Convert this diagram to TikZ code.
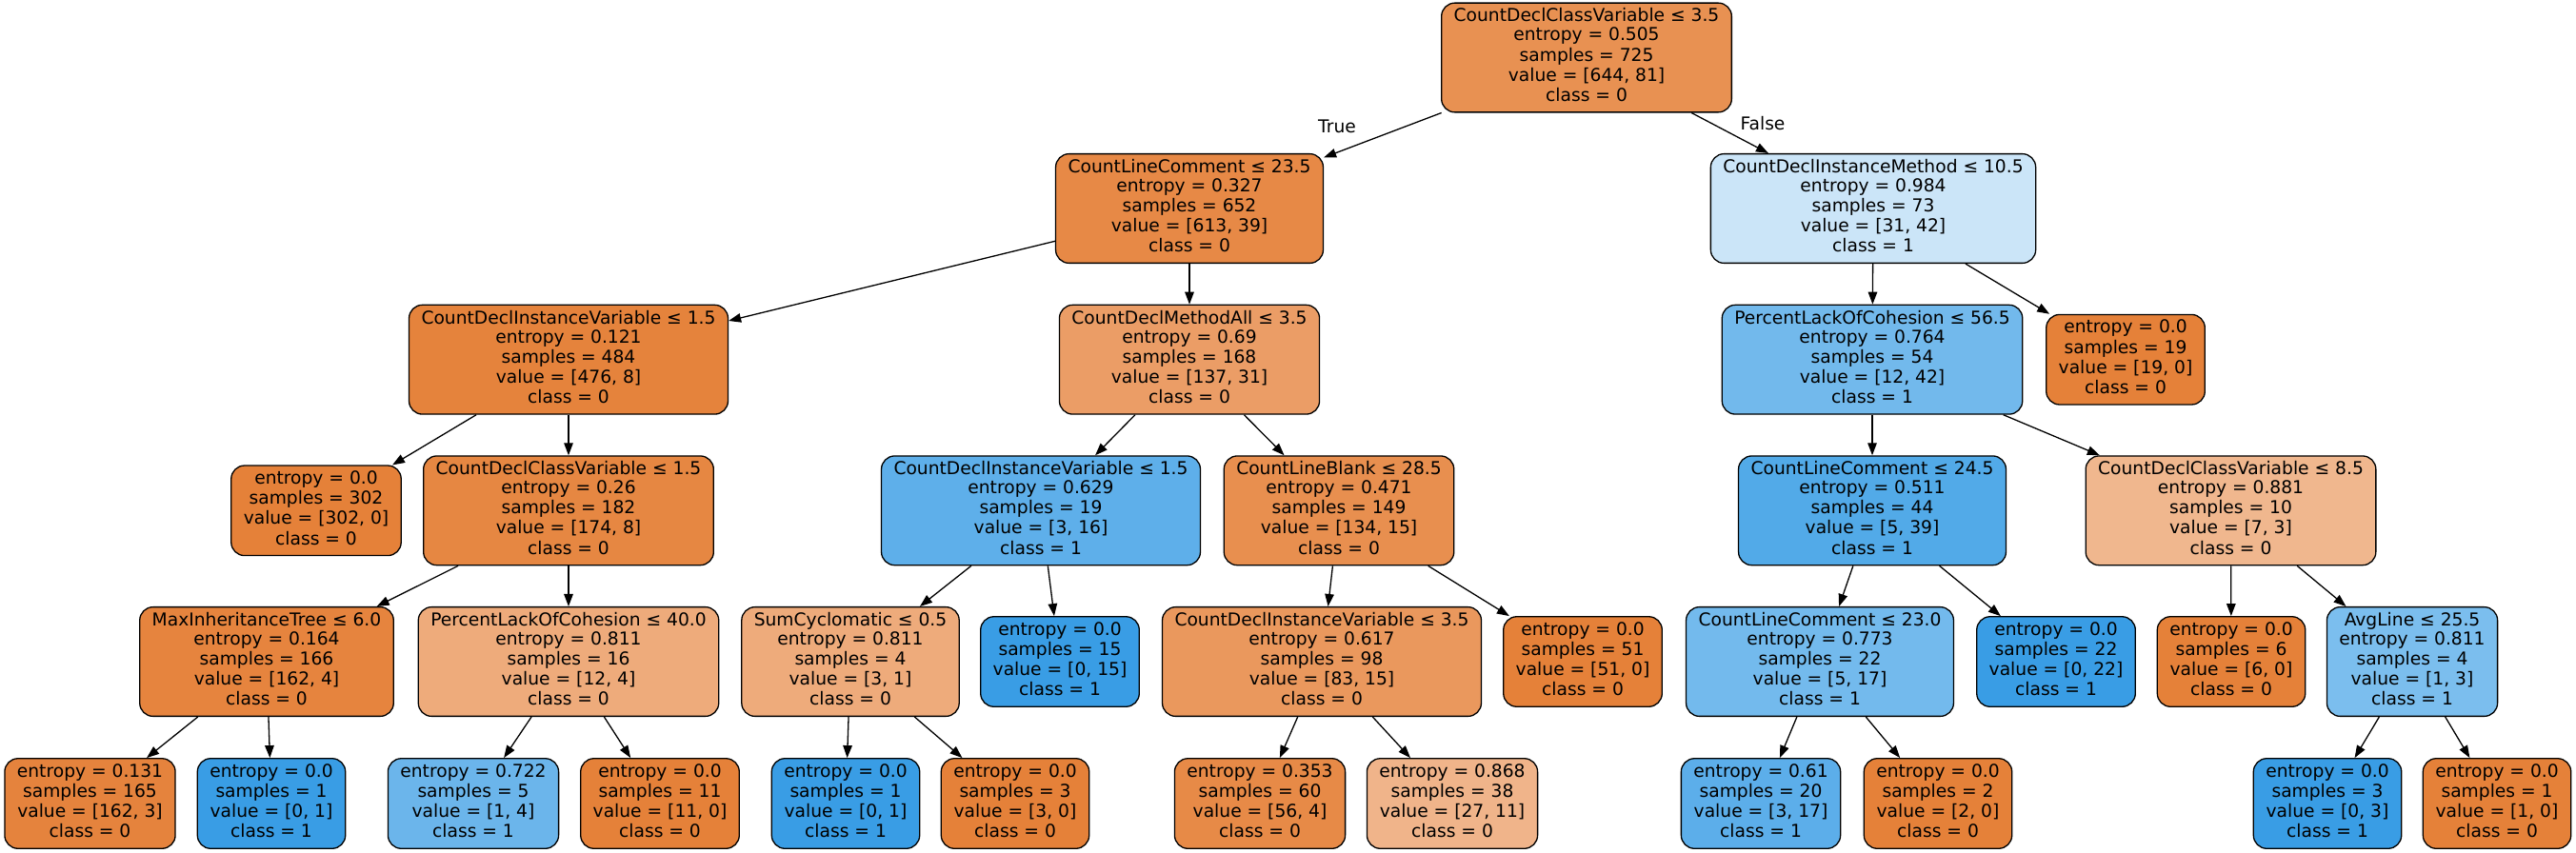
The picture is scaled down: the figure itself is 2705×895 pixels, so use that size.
\documentclass[tikz,border=0pt]{standalone}
\usepackage{fontspec}
\setmainfont{DejaVu Sans}
\usetikzlibrary{arrows.meta}
\definecolor{cz}{RGB}{229,129,57}
\definecolor{co}{RGB}{57,157,229}
\newcommand\zs{\rule[-6pt]{0pt}{20pt}}
\begin{document}
\begin{tikzpicture}[x=1pt,y=-1pt,
  tn/.style={draw=black, line width=1.3pt, rounded corners=14pt, align=center,
    inner xsep=13pt, inner ysep=5.5pt, font={\fontsize{18.67pt}{20pt}\selectfont}},
  ed/.style={-{Triangle[length=13pt,width=9.5pt]}, line width=1.3pt},
  lb/.style={font={\fontsize{18.67pt}{20pt}\selectfont}, inner sep=0pt}]
\fill[white] (0,0) rectangle (2705,895);
\useasboundingbox (0,0) rectangle (2705,895);
% level 0
\node[tn, fill=cz!87.4!white] (n0) at (1666,60.5) {\zs CountDeclClassVariable ≤ 3.5\\\zs entropy = 0.505\\\zs samples = 725\\\zs value = [644, 81]\\\zs class = 0};
% level 1
\node[tn, fill=cz!93.6!white] (n1) at (1249,219) {\zs CountLineComment ≤ 23.5\\\zs entropy = 0.327\\\zs samples = 652\\\zs value = [613, 39]\\\zs class = 0};
\node[tn, fill=co!26.2!white] (n22) at (1967,219) {\zs CountDeclInstanceMethod ≤ 10.5\\\zs entropy = 0.984\\\zs samples = 73\\\zs value = [31, 42]\\\zs class = 1};
% level 2
\node[tn, fill=cz!98.3!white] (n2) at (597,377.7) {\zs CountDeclInstanceVariable ≤ 1.5\\\zs entropy = 0.121\\\zs samples = 484\\\zs value = [476, 8]\\\zs class = 0};
\node[tn, fill=cz!77.4!white] (n11) at (1249,377.7) {\zs CountDeclMethodAll ≤ 3.5\\\zs entropy = 0.69\\\zs samples = 168\\\zs value = [137, 31]\\\zs class = 0};
\node[tn, fill=co!71.4!white] (n23) at (1966,377.7) {\zs PercentLackOfCohesion ≤ 56.5\\\zs entropy = 0.764\\\zs samples = 54\\\zs value = [12, 42]\\\zs class = 1};
\node[tn, fill=cz] (n34) at (2232,377.7) {\zs entropy = 0.0\\\zs samples = 19\\\zs value = [19, 0]\\\zs class = 0};
% level 3
\node[tn, fill=cz] (n3) at (332,536.3) {\zs entropy = 0.0\\\zs samples = 302\\\zs value = [302, 0]\\\zs class = 0};
\node[tn, fill=cz!95.4!white] (n4) at (597,536.3) {\zs CountDeclClassVariable ≤ 1.5\\\zs entropy = 0.26\\\zs samples = 182\\\zs value = [174, 8]\\\zs class = 0};
\node[tn, fill=co!81.3!white] (n12) at (1093,536.3) {\zs CountDeclInstanceVariable ≤ 1.5\\\zs entropy = 0.629\\\zs samples = 19\\\zs value = [3, 16]\\\zs class = 1};
\node[tn, fill=cz!88.8!white] (n17) at (1406,536.3) {\zs CountLineBlank ≤ 28.5\\\zs entropy = 0.471\\\zs samples = 149\\\zs value = [134, 15]\\\zs class = 0};
\node[tn, fill=co!87.2!white] (n24) at (1966,536.3) {\zs CountLineComment ≤ 24.5\\\zs entropy = 0.511\\\zs samples = 44\\\zs value = [5, 39]\\\zs class = 1};
\node[tn, fill=cz!57.1!white] (n29) at (2342.5,536.3) {\zs CountDeclClassVariable ≤ 8.5\\\zs entropy = 0.881\\\zs samples = 10\\\zs value = [7, 3]\\\zs class = 0};
% level 4
\node[tn, fill=cz!97.5!white] (n5) at (280,695) {\zs MaxInheritanceTree ≤ 6.0\\\zs entropy = 0.164\\\zs samples = 166\\\zs value = [162, 4]\\\zs class = 0};
\node[tn, fill=cz!66.7!white] (n8) at (597,695) {\zs PercentLackOfCohesion ≤ 40.0\\\zs entropy = 0.811\\\zs samples = 16\\\zs value = [12, 4]\\\zs class = 0};
\node[tn, fill=cz!66.7!white] (n13) at (893,695) {\zs SumCyclomatic ≤ 0.5\\\zs entropy = 0.811\\\zs samples = 4\\\zs value = [3, 1]\\\zs class = 0};
\node[tn, fill=co] (n16) at (1113,695) {\zs entropy = 0.0\\\zs samples = 15\\\zs value = [0, 15]\\\zs class = 1};
\node[tn, fill=cz!81.9!white] (n18) at (1388,695) {\zs CountDeclInstanceVariable ≤ 3.5\\\zs entropy = 0.617\\\zs samples = 98\\\zs value = [83, 15]\\\zs class = 0};
\node[tn, fill=cz] (n21) at (1662,695) {\zs entropy = 0.0\\\zs samples = 51\\\zs value = [51, 0]\\\zs class = 0};
\node[tn, fill=co!70.6!white] (n25) at (1911,695) {\zs CountLineComment ≤ 23.0\\\zs entropy = 0.773\\\zs samples = 22\\\zs value = [5, 17]\\\zs class = 1};
\node[tn, fill=co] (n28) at (2159,695) {\zs entropy = 0.0\\\zs samples = 22\\\zs value = [0, 22]\\\zs class = 1};
\node[tn, fill=cz] (n30) at (2343,695) {\zs entropy = 0.0\\\zs samples = 6\\\zs value = [6, 0]\\\zs class = 0};
\node[tn, fill=co!66.7!white] (n31) at (2533,695) {\zs AvgLine ≤ 25.5\\\zs entropy = 0.811\\\zs samples = 4\\\zs value = [1, 3]\\\zs class = 1};
% level 5
\node[tn, fill=cz!98.1!white] (n6) at (94.5,844) {\zs entropy = 0.131\\\zs samples = 165\\\zs value = [162, 3]\\\zs class = 0};
\node[tn, fill=co] (n7) at (285,844) {\zs entropy = 0.0\\\zs samples = 1\\\zs value = [0, 1]\\\zs class = 1};
\node[tn, fill=co!75!white] (n9) at (497,844) {\zs entropy = 0.722\\\zs samples = 5\\\zs value = [1, 4]\\\zs class = 1};
\node[tn, fill=cz] (n10) at (693,844) {\zs entropy = 0.0\\\zs samples = 11\\\zs value = [11, 0]\\\zs class = 0};
\node[tn, fill=co] (n14) at (888,844) {\zs entropy = 0.0\\\zs samples = 1\\\zs value = [0, 1]\\\zs class = 1};
\node[tn, fill=cz] (n15) at (1066,844) {\zs entropy = 0.0\\\zs samples = 3\\\zs value = [3, 0]\\\zs class = 0};
\node[tn, fill=cz!92.9!white] (n19) at (1323,844) {\zs entropy = 0.353\\\zs samples = 60\\\zs value = [56, 4]\\\zs class = 0};
\node[tn, fill=cz!59.3!white] (n20) at (1525,844) {\zs entropy = 0.868\\\zs samples = 38\\\zs value = [27, 11]\\\zs class = 0};
\node[tn, fill=co!82.4!white] (n26) at (1849,844) {\zs entropy = 0.61\\\zs samples = 20\\\zs value = [3, 17]\\\zs class = 1};
\node[tn, fill=cz] (n27) at (2035,844) {\zs entropy = 0.0\\\zs samples = 2\\\zs value = [2, 0]\\\zs class = 0};
\node[tn, fill=co] (n32) at (2444,844) {\zs entropy = 0.0\\\zs samples = 3\\\zs value = [0, 3]\\\zs class = 1};
\node[tn, fill=cz] (n33) at (2622,844) {\zs entropy = 0.0\\\zs samples = 1\\\zs value = [1, 0]\\\zs class = 0};
% edges
\foreach \a/\b in {n0/n1, n0/n22, n1/n2, n1/n11, n2/n3, n2/n4, n4/n5, n4/n8,
  n5/n6, n5/n7, n8/n9, n8/n10, n11/n12, n11/n17, n12/n13, n12/n16, n13/n14,
  n13/n15, n17/n18, n17/n21, n18/n19, n18/n20, n22/n23, n22/n34, n23/n24,
  n23/n29, n24/n25, n24/n28, n25/n26, n25/n27, n29/n30, n29/n31, n31/n32, n31/n33}
  \draw[ed] (\a) -- (\b);
% edge labels
\node[lb] (tl) at (1404,133) {True};
\node[lb] (fl) at (1851,130) {False};
\end{tikzpicture}
\end{document}
